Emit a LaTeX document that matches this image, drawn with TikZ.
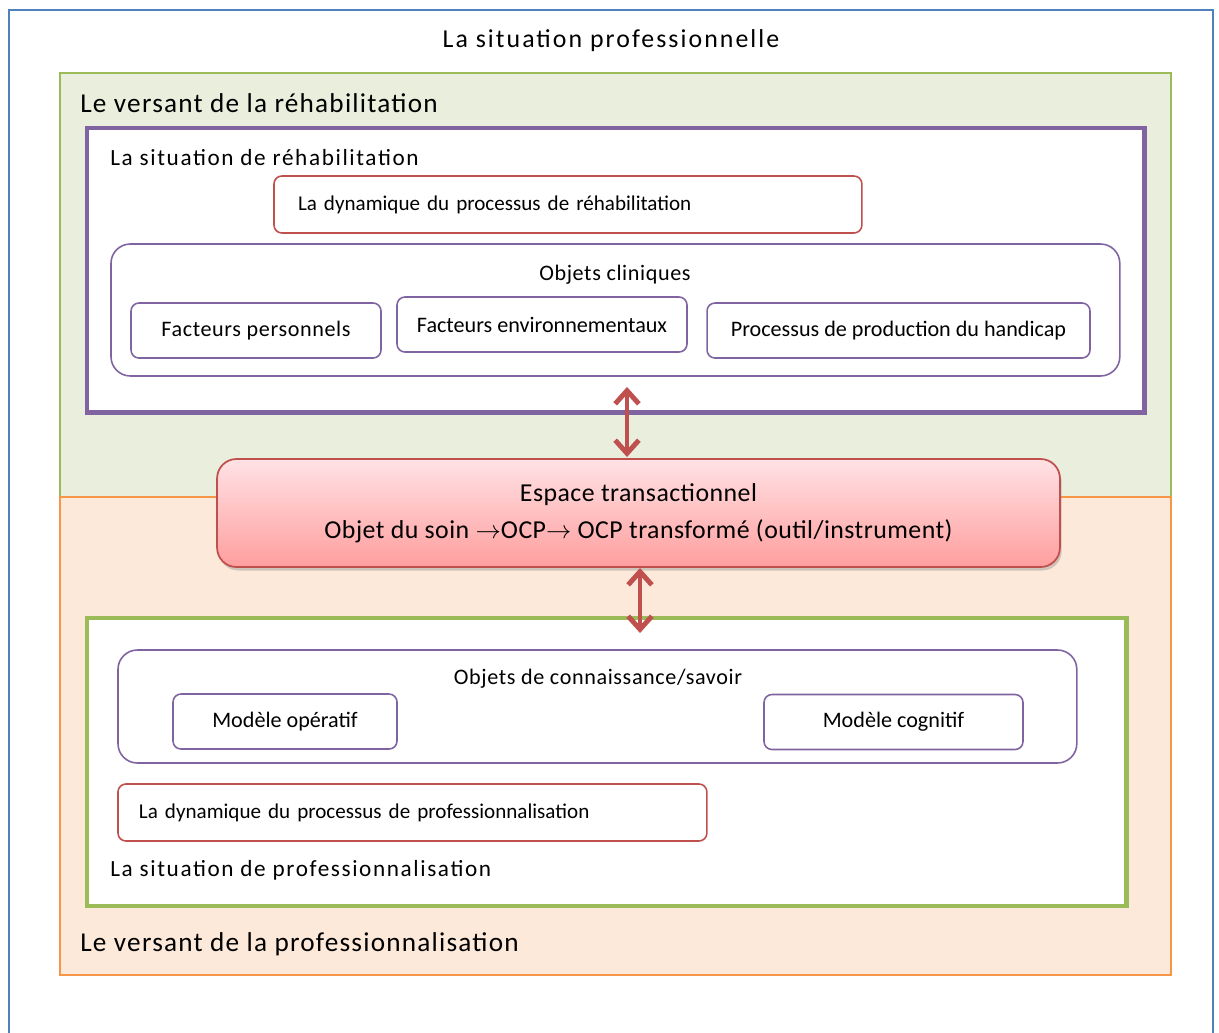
\documentclass[tikz,border=0pt]{standalone}
\usepackage{fontspec}
\setmainfont{Carlito}
\newfontfamily\titrefont[LetterSpace=8]{Carlito}
\newfontfamily\situfont[LetterSpace=7]{Carlito}
\newfontfamily\versfont[LetterSpace=4.5]{Carlito}
\newfontfamily\objfont[LetterSpace=2.8]{Carlito}
\newfontfamily\espfont[LetterSpace=1.8]{Carlito}
\usetikzlibrary{positioning,arrows.meta,shadows}

\definecolor{bleu}{HTML}{4F81BD}
\definecolor{vert}{HTML}{9BBB59}
\definecolor{vertclair}{HTML}{EAEFDD}
\definecolor{orangefonce}{HTML}{F79646}
\definecolor{orangeclair}{HTML}{FCE9DA}
\definecolor{mauve}{HTML}{8064A2}
\definecolor{rouge}{HTML}{C0504D}
\definecolor{rosehaut}{HTML}{FFE2E5}
\definecolor{rosebas}{HTML}{FF9E9E}

\begin{document}
\begin{tikzpicture}[x=0.02cm,y=-0.02cm,
	zone/.style={rectangle,draw,line width=0.9pt,inner sep=0pt,outer sep=0pt,anchor=north west},
	cadre/.style={rectangle,draw,line width=2.8pt,fill=white,inner sep=0pt,outer sep=0pt,anchor=north west},
	boite/.style={rectangle,draw=mauve,line width=0.9pt,rounded corners=4.5pt,minimum height=1.1cm,inner sep=0pt,outer sep=0pt,font=\fontsize{12.6}{15}\selectfont},
	dynam/.style={rectangle,draw=rouge,line width=0.9pt,rounded corners=4.5pt,minimum height=1.14cm,inner ysep=0pt,outer sep=0pt,align=left,anchor=north west,font=\fontsize{12}{14}\selectfont},
	objets/.style={rectangle,draw=mauve,line width=0.9pt,rounded corners=11pt,inner sep=0pt,outer sep=0pt,anchor=north west},
	versant/.style={anchor=west,inner sep=0pt,font=\versfont\fontsize{15.5}{18}\selectfont},
	situation/.style={anchor=west,inner sep=0pt,font=\situfont\fontsize{13.2}{15}\selectfont},
	petit/.style={inner sep=0pt,font=\objfont\fontsize{12.6}{15}\selectfont},
	biarrow/.style={draw=rouge,line width=2.8pt,{Straight Barb[length=7.5pt,width=13.5pt]}-{Straight Barb[length=7.5pt,width=13.5pt]}}]

	\useasboundingbox (0,0) rectangle (1219,1032);
	\draw[bleu,line width=1.2pt] (9,1040) -- (9,10) -- (1213,10) -- (1213,1040);
	\node [inner sep=0pt,font=\titrefont\fontsize{14.7}{17}\selectfont] (titre) at (611,41) {La situation professionnelle};

	\node [zone,draw=vert,fill=vertclair,minimum width=22.22cm,minimum height=8.48cm] (rehab) at (60,73) {};
	\node [zone,draw=orangefonce,fill=orangeclair,minimum width=22.22cm,minimum height=9.56cm] (pro) at (60,497) {};
	\node [versant] (vrehab) at (80,103) {Le versant de la réhabilitation};
	\node [versant] (vpro) at (80,944) {Le versant de la professionnalisation};

	\node [cadre,draw=mauve,minimum width=21.16cm,minimum height=5.70cm] (srehab) at (87,128) {};
	\node [situation] (lsrehab) at (110,158) {La situation de réhabilitation};
	\node [dynam,inner xsep=0.48cm,text width=10.8cm] (drehab) at (274,176) {La dynamique du processus de réhabilitation};
	\node [objets,minimum width=20.18cm,minimum height=2.64cm] (clin) at (111,244) {};
	\node [petit] (lclin) at (615,275) {Objets cliniques};
	\node [boite,minimum width=5cm,font=\objfont\fontsize{12.6}{15}\selectfont] (fperso) at (256,330.5) {Facteurs personnels};
	\node [boite,minimum width=5.8cm] (fenv) at (542,324.5) {Facteurs environnementaux};
	\node [boite,minimum width=7.66cm] (pph) at (898.5,330.5) {Processus de production du handicap};

	\node [rectangle,draw=rouge,line width=1pt,rounded corners=11pt,top color=rosehaut,bottom color=rosebas,
		drop shadow={opacity=0.35,shadow xshift=1pt,shadow yshift=-2pt},
		minimum width=16.86cm,minimum height=2.16cm,inner sep=0pt,outer sep=0pt,align=center,
		font=\espfont\fontsize{14.7}{21}\selectfont] (espace) at (638.5,513)
		{Espace transactionnel\\Objet du soin $\rightarrow$OCP$\rightarrow$ OCP transformé (outil/instrument)};

	\node [cadre,draw=vert,minimum width=20.8cm,minimum height=5.76cm] (spro) at (87,618) {};
	\node [objets,minimum width=19.18cm,minimum height=2.26cm] (savoir) at (118,650) {};
	\node [petit] (lsavoir) at (598,679) {Objets de connaissance/savoir};
	\node [boite,minimum width=4.48cm] (mope) at (285,721.5) {Modèle opératif};
	\node [boite,minimum width=5.18cm] (mcog) at (893.5,722) {Modèle cognitif};
	\node [dynam,inner xsep=0.42cm,text width=10.94cm] (dpro) at (118,784) {La dynamique du processus de professionnalisation};
	\node [situation] (lspro) at (110,870) {La situation de professionnalisation};

	\draw [biarrow,shorten <=0.22cm,shorten >=0.04cm] ([xshift=-0.23cm]clin.south -| espace.north) -- ([xshift=-0.23cm]espace.north);
	\draw [biarrow,shorten <=0.02cm,shorten >=0.34cm] ([xshift=0.03cm]espace.south) -- ([xshift=0.03cm]espace.south |- savoir.north);
\end{tikzpicture}
\end{document}
